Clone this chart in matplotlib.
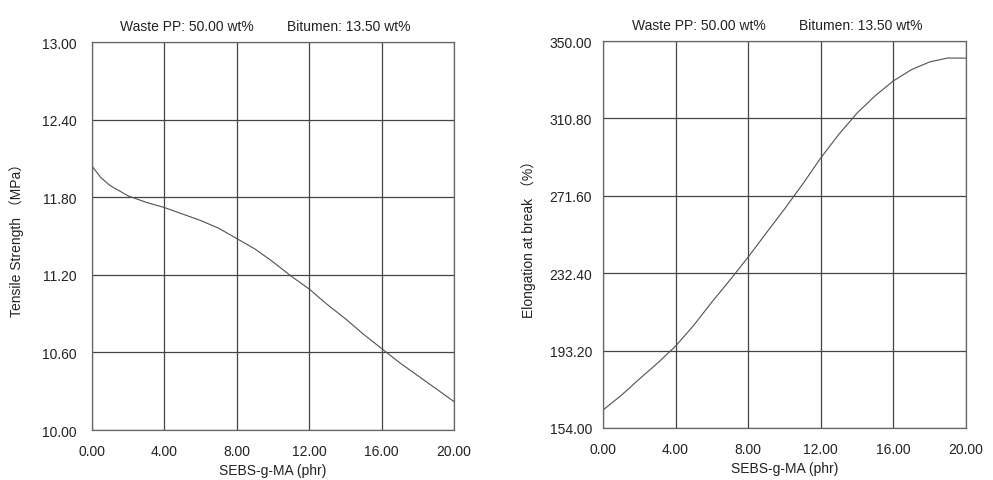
import matplotlib
matplotlib.use("Agg")
import matplotlib.pyplot as plt

# Data
sebs = [0, 0.5, 1, 1.5, 2, 3, 4, 5, 6, 7, 8, 9, 10, 11, 12, 13, 14, 15, 16, 17, 18, 19, 20]
tensile = [12.04, 11.95, 11.89, 11.85, 11.81, 11.76, 11.72, 11.67, 11.62, 11.56, 11.48, 11.40,
           11.30, 11.19, 11.09, 10.97, 10.86, 10.74, 10.63, 10.52, 10.42, 10.32, 10.22]
elong = [163.1, 166.8, 170.5, 174.6, 178.8, 186.8, 195.5, 206.0, 217.8, 229.0, 240.6, 252.8,
         264.9, 277.5, 290.8, 302.8, 313.5, 322.3, 329.8, 335.5, 339.4, 341.4, 341.3]

x_ticks = [0, 4, 8, 12, 16, 20]
tens_ticks = [10.00, 10.60, 11.20, 11.80, 12.40, 13.00]
elong_ticks = [154.00, 193.20, 232.40, 271.60, 310.80, 350.00]

title_left = "Waste PP: 50.00 wt%"
title_right = "Bitumen: 13.50 wt%"
x_label = "SEBS-g-MA (phr)"
y_label_left = "Tensile Strength \uff08MPa\uff09"
y_label_right = "Elongation at break \uff08%\uff09"

plt.rcParams['font.family'] = ['Liberation Sans', 'Noto Sans CJK SC', 'DejaVu Sans']
plt.rcParams['font.size'] = 10

W, H = 993, 481
fig = plt.figure(figsize=(W/100, H/100), dpi=100)
ax1 = fig.add_axes([92/W, 50/H, 362/W, 388/H])
ax2 = fig.add_axes([603/W, 52/H, 363/W, 387/H])

def style(ax, y, yt, ylab, ypad, ylab_x, t1_x, t2_x):
    ax.plot(sebs, y, color='#505050', lw=0.8)
    ax.set_xlim(0, 20)
    ax.set_ylim(yt[0], yt[-1])
    ax.set_xticks(x_ticks)
    ax.set_xticklabels([f"{v:.2f}" for v in x_ticks])
    ax.set_yticks(yt)
    ax.set_yticklabels([f"{v:.2f}" for v in yt])
    ax.tick_params(axis='both', length=0, labelsize=10, colors='#222222')
    ax.tick_params(axis='x', pad=10)
    ax.tick_params(axis='y', pad=ypad)
    ax.grid(True, color='#444444', lw=0.9)
    ax.set_axisbelow(True)
    for s in ax.spines.values():
        s.set_color('#666666')
        s.set_linewidth(0.9)
    ax.set_xlabel(x_label, fontsize=10, color='#222222', labelpad=4)
    ax.set_ylabel(ylab, fontsize=10, color='#222222')
    ax.yaxis.set_label_coords(ylab_x, 0.5)
    ax.text(t1_x, 1.042, title_left, transform=ax.transAxes, ha='left', va='center',
            fontsize=10, color='#222222')
    ax.text(t2_x, 1.042, title_right, transform=ax.transAxes, ha='left', va='center',
            fontsize=10, color='#222222')

style(ax1, tensile, tens_ticks, y_label_left, 11, -0.188, (120-92)/362, (287-92)/362)
style(ax2, elong, elong_ticks, y_label_right, 8, -0.184, (632-603)/363, (799-603)/363)

fig.savefig("out.png", dpi=100)
